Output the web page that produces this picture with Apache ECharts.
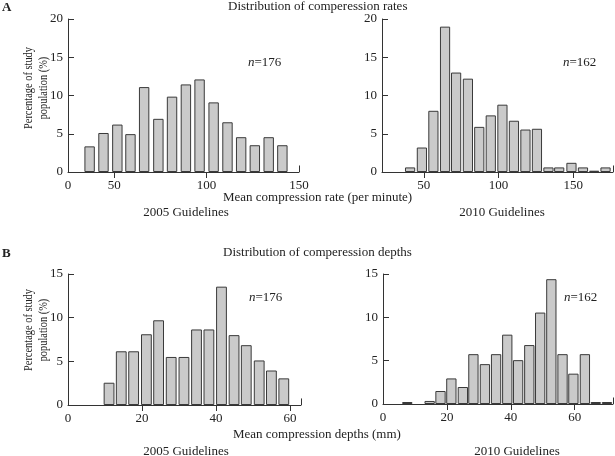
<!DOCTYPE html>
<html>
<head>
<meta charset="utf-8">
<script src="https://cdn.jsdelivr.net/npm/echarts@6/dist/echarts.min.js"></script>
<style>
  html, body { margin: 0; padding: 0; background: #fff; }
  #chart-container { width: 615px; height: 456px; }
</style>
</head>
<body>
<div id="chart-container"></div>
<script>
// compression rate bins (per minute) and % of study population
var rateBins2005 = [36.7, 44.2, 51.7, 58.8, 66.2, 73.9, 81.3, 88.8, 96.2, 103.8, 111.3, 118.7, 126.1, 133.6, 141.0];
var rateVals2005 = [3.35, 5.1, 6.2, 4.95, 11.1, 6.95, 9.85, 11.45, 12.1, 9.1, 6.5, 4.55, 3.5, 4.55, 3.5];
var rateBins2010 = [40.8, 48.7, 56.4, 64.2, 71.6, 79.5, 87.1, 94.8, 102.6, 110.3, 118.0, 125.7, 133.4, 140.6, 148.8, 156.5, 164.0, 171.6];
var rateVals2010 = [0.6, 3.2, 8.0, 19.0, 13.0, 12.2, 5.9, 7.4, 8.8, 6.7, 5.55, 5.65, 0.6, 0.6, 1.2, 0.6, 0.17, 0.6];

// compression depth bins (mm)
var depthBins2005 = [11.1, 14.4, 17.75, 21.2, 24.5, 27.9, 31.35, 34.75, 38.1, 41.5, 44.9, 48.2, 51.7, 55.0, 58.35];
var depthVals2005 = [2.55, 6.15, 6.15, 8.1, 9.7, 5.5, 5.5, 8.65, 8.65, 13.55, 8.0, 6.85, 5.1, 3.95, 3.05];
var depthBins2010 = [7.6, 14.6, 18.0, 21.4, 25.0, 28.3, 31.9, 35.4, 38.9, 42.3, 45.8, 49.2, 52.7, 56.2, 59.6, 63.2, 66.6, 70.1];
var depthVals2010 = [0.23, 0.35, 1.5, 2.95, 1.96, 5.75, 4.6, 5.75, 8.0, 5.06, 6.8, 10.55, 14.4, 5.75, 3.5, 5.75, 0.23, 0.23];

var FONT = 'Liberation Serif';
var INK = '#222';
var AXIS = '#333';

function zip(xs, ys) {
    return xs.map(function (x, i) { return [x, ys[i]]; });
}

function xAxisFor(gridIndex, min, max, labels, ticks, fmt) {
    return {
        type: 'value', gridIndex: gridIndex, min: min, max: max,
        axisLine: { lineStyle: { color: AXIS, width: 1 } },
        axisTick: { show: true, inside: false, length: 6, customValues: ticks, lineStyle: { color: AXIS } },
        axisLabel: {
            customValues: labels, margin: 7, color: INK,
            fontFamily: FONT, fontSize: 13,
            formatter: fmt || function (v) { return v; }
        },
        splitLine: { show: false }
    };
}

function yAxisFor(gridIndex, max) {
    return {
        type: 'value', gridIndex: gridIndex, min: 0, max: max, interval: 5,
        axisLine: { show: true, lineStyle: { color: AXIS, width: 1 } },
        axisTick: { show: true, inside: true, length: 6, lineStyle: { color: AXIS } },
        axisLabel: { margin: 5, color: INK, fontFamily: FONT, fontSize: 13 },
        splitLine: { show: false }
    };
}

function barSeries(idx, data, width, endX, endH) {
    return {
        type: 'bar', xAxisIndex: idx, yAxisIndex: idx,
        data: data, barWidth: width, silent: true,
        itemStyle: { color: '#cacaca', borderColor: '#3a3a3a', borderWidth: 1 },
        // small upward tick closing the x axis on the right
        markLine: {
            silent: true, symbol: 'none', label: { show: false },
            lineStyle: { color: AXIS, width: 1, type: 'solid' },
            data: [[{ coord: [endX, 0] }, { coord: [endX, endH] }]]
        }
    };
}

function txt(text, x, y, extra) {
    var s = {
        text: text, x: x, y: y,
        font: '13px "' + FONT + '"', fill: INK,
        textAlign: 'left', textVerticalAlign: 'middle'
    };
    for (var k in extra) s[k] = extra[k];
    return { type: 'text', silent: true, style: s };
}

function nText(n, x, y) {
    return txt('{i|n}=' + n, x, y, {
        rich: { i: { fontStyle: 'italic', fontFamily: FONT, fontSize: 13, fill: INK } }
    });
}

var yName = 'Percentage of study\npopulation (%)';

var chart = echarts.init(document.getElementById('chart-container'));

var option = {
    animation: false,
    grid: [
        { left: 68, top: 19, width: 231, height: 153 },
        { left: 382, top: 19, width: 231, height: 153 },
        { left: 68, top: 274, width: 233, height: 131 },
        { left: 383, top: 274, width: 230, height: 130 }
    ],
    xAxis: [
        xAxisFor(0, 25, 150, [25, 50, 100, 150], [50, 100],
            function (v) { return v === 25 ? '0' : v; }),
        xAxisFor(1, 22, 176.6, [50, 100, 150], [50, 100, 150]),
        xAxisFor(2, 0, 63, [0, 20, 40, 60], [20, 40, 60]),
        xAxisFor(3, 0, 72, [0, 20, 40, 60], [20, 40, 60])
    ],
    yAxis: [yAxisFor(0, 20), yAxisFor(1, 20), yAxisFor(2, 15), yAxisFor(3, 15)],
    series: [
        barSeries(0, zip(rateBins2005, rateVals2005), 10.4, 150, 0.85),
        barSeries(1, zip(rateBins2010, rateVals2010), 10.2, 176.6, 0.85),
        barSeries(2, zip(depthBins2005, depthVals2005), 10.8, 63, 0.75),
        barSeries(3, zip(depthBins2010, depthVals2010), 10.3, 72, 0.75)
    ],
    graphic: [
        txt('A', 2, 8, { font: 'bold 13px "' + FONT + '"' }),
        txt('Distribution of comperession rates', 228, 7),
        txt('Mean compression rate (per minute)', 223, 198),
        txt('2005 Guidelines', 186, 213, { textAlign: 'center' }),
        txt('2010 Guidelines', 502, 213, { textAlign: 'center' }),
        nText(176, 248, 63),
        nText(162, 563, 63),
        txt('B', 2, 254, { font: 'bold 13px "' + FONT + '"' }),
        txt('Distribution of comperession depths', 223, 253),
        txt('Mean compression depths (mm)', 233, 435),
        txt('2005 Guidelines', 186, 452, { textAlign: 'center' }),
        txt('2010 Guidelines', 517, 452, { textAlign: 'center' }),
        nText(176, 249, 298),
        nText(162, 564, 298),
        {
            type: 'text', silent: true, x: 36, y: 88, rotation: Math.PI / 2, scaleX: 0.8,
            style: { text: yName, font: '13px "' + FONT + '"', fill: INK, lineHeight: 15,
                textAlign: 'center', textVerticalAlign: 'middle' }
        },
        {
            type: 'text', silent: true, x: 36, y: 330, rotation: Math.PI / 2, scaleX: 0.8,
            style: { text: yName, font: '13px "' + FONT + '"', fill: INK, lineHeight: 15,
                textAlign: 'center', textVerticalAlign: 'middle' }
        }
    ]
};

chart.setOption(option);
</script>
</body>
</html>
